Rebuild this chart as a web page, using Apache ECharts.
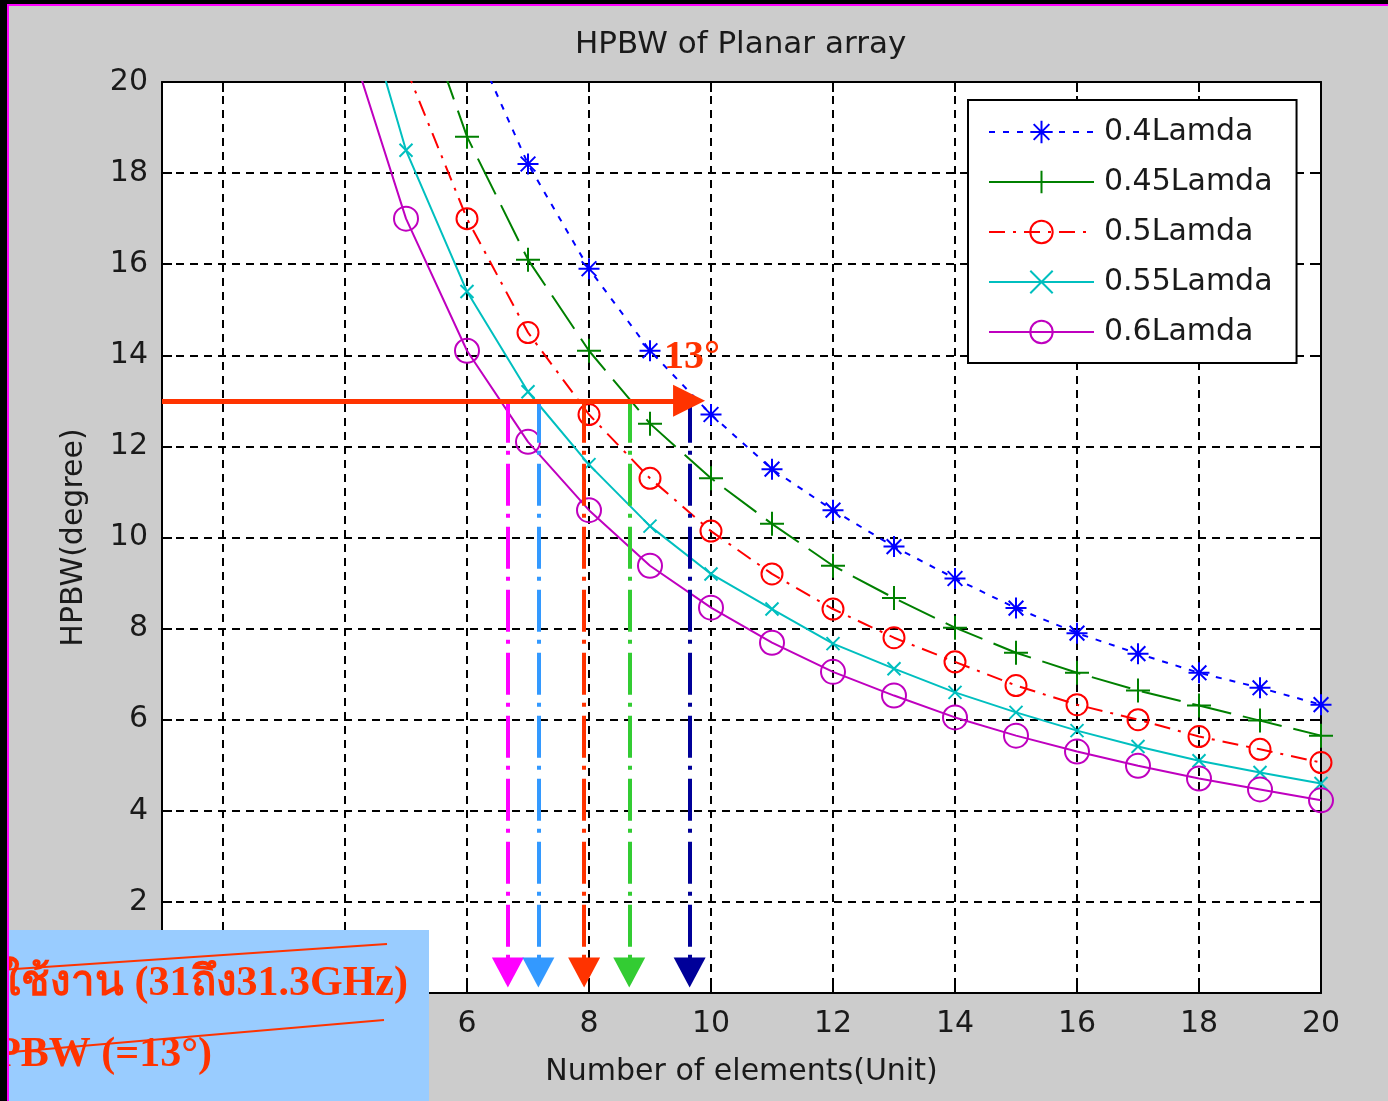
<!DOCTYPE html>
<html>
<head>
<meta charset="utf-8">
<title>HPBW of Planar array</title>
<script src="https://cdn.jsdelivr.net/npm/echarts@6/dist/echarts.min.js"></script>
<style>
body{margin:0;background:#cccccc}
#main{width:1388px;height:1101px}
</style>
</head>
<body>
<div id="main"></div>
<script>
// number of elements (x)
var elements = [1,2,3,4,5,6,7,8,9,10,11,12,13,14,15,16,17,18,19,20];
// HPBW (degree), values above 20 only to let the line run off the top
var hpbw040 = [null,null,null,null,null,21.2,18.2,15.9,14.1,12.7,11.5,10.6,9.8,9.1,8.45,7.9,7.45,7.03,6.7,6.33];
var hpbw045 = [null,null,null,null,22.6,18.8,16.1,14.1,12.5,11.3,10.3,9.38,8.67,8.02,7.47,7.03,6.64,6.31,5.98,5.65];
var hpbw050 = [null,null,null,null,20.3,17.0,14.5,12.7,11.3,10.14,9.2,8.43,7.8,7.27,6.75,6.33,6.0,5.63,5.35,5.06];
var hpbw055 = [null,null,null,23.1,18.5,15.4,13.2,11.6,10.25,9.2,8.43,7.67,7.12,6.6,6.16,5.76,5.41,5.1,4.84,4.6];
var hpbw060 = [null,null,null,21.2,17.0,14.1,12.1,10.6,9.38,8.46,7.69,7.05,6.53,6.05,5.65,5.3,4.99,4.71,4.47,4.23];

var xTicks = [2,4,6,8,10,12,14,16,18,20];
var yTicks = [0,2,4,6,8,10,12,14,16,18,20];

// annotation: target HPBW and where each curve crosses it
var targetHpbw = 13;
var crossX = [6.67, 7.17, 7.92, 8.66, 9.65];
var crossColors = ['#ff00ff', '#3399ff', '#ff3300', '#33cc33', '#000099'];

var FONT = 'DejaVu Sans';
var STAR = 'path://M10 0L10 20M0 10L20 10M3 3L17 17M3 17L17 3';
var PLUS = 'path://M10 0L10 20M0 10L20 10';
var CROSS = 'path://M0 0L20 20M0 20L20 0';

function pairs(vals){
    return elements.map(function(n, i){ return [n, vals[i]]; });
}

function curve(name, vals, color, dash, symbol, size){
    return {
        name: name,
        type: 'line',
        data: pairs(vals),
        symbol: symbol,
        symbolSize: size,
        showAllSymbol: true,
        clip: true,
        z: 3,
        lineStyle: {color: color, width: 2, type: dash},
        itemStyle: {color: 'rgba(0,0,0,0)', borderColor: color, borderWidth: 2},
        emphasis: {disabled: true}
    };
}

var arrowLines = crossX.map(function(x, i){
    return [
        {coord: [x, targetHpbw], symbol: 'none', lineStyle: {color: crossColors[i], width: 4, type: [42, 8, 4, 9]}, itemStyle: {color: crossColors[i]}},
        {coord: [x, 0.45], symbol: 'triangle', symbolSize: [32, 30]}
    ];
});
arrowLines.push([
    {coord: [1, targetHpbw], symbol: 'none', lineStyle: {color: '#ff3300', width: 5, type: 'solid'}, itemStyle: {color: '#ff3300'}},
    {coord: [9.64, targetHpbw], symbol: 'triangle', symbolSize: [32, 32]}
]);

var gridLine = {show: true, lineStyle: {color: '#000', width: 2, type: [8, 6]}};

var myChart = echarts.init(document.getElementById('main'));
var option = {
    backgroundColor: '#cccccc',
    animation: false,
    title: {
        text: 'HPBW of Planar array',
        left: 570, top: 24,
        textStyle: {fontFamily: FONT, fontSize: 31, fontWeight: 'normal', color: '#1a1a1a'}
    },
    grid: {left: 162, right: 67, top: 82, bottom: 108, show: true, backgroundColor: '#fff', borderWidth: 0},
    legend: {
        orient: 'vertical',
        left: 968, top: 100,
        padding: [17, 24, 16, 20],
        backgroundColor: '#fff',
        borderColor: '#000', borderWidth: 2,
        itemWidth: 105, itemHeight: 28, itemGap: 20,
        textStyle: {fontFamily: FONT, fontSize: 30, color: '#1a1a1a', lineHeight: 28, padding: [0, 0, 0, 5]},
        data: [
            {name: '0.4Lamda'},
            {name: '0.45Lamda', lineStyle: {type: 'solid'}},
            {name: '0.5Lamda'},
            {name: '0.55Lamda'},
            {name: '0.6Lamda'}
        ]
    },
    xAxis: [{
        type: 'value', min: 1, max: 20, position: 'bottom',
        name: 'Number of elements(Unit)', nameLocation: 'middle', nameGap: 64,
        nameTextStyle: {fontFamily: FONT, fontSize: 30, color: '#1a1a1a'},
        axisLine: {show: true, onZero: false, lineStyle: {color: '#000', width: 2}},
        axisTick: {show: true, inside: true, length: 10, customValues: xTicks, lineStyle: {color: '#000', width: 2}},
        axisLabel: {customValues: xTicks, margin: 16, fontFamily: FONT, fontSize: 30, color: '#1a1a1a'},
        splitLine: gridLine
    }, {
        type: 'value', min: 1, max: 20, position: 'top',
        axisLine: {show: true, onZero: false, lineStyle: {color: '#000', width: 2}},
        axisTick: {show: true, inside: true, length: 10, customValues: xTicks, lineStyle: {color: '#000', width: 2}},
        axisLabel: {show: false},
        splitLine: {show: false}
    }],
    yAxis: [{
        type: 'value', min: 0, max: 20, interval: 2, position: 'left',
        name: 'HPBW(degree)', nameLocation: 'middle', nameGap: 73, nameRotate: 90,
        nameTextStyle: {fontFamily: FONT, fontSize: 30, color: '#1a1a1a'},
        axisLine: {show: true, onZero: false, lineStyle: {color: '#000', width: 2}},
        axisTick: {show: true, inside: true, length: 10, lineStyle: {color: '#000', width: 2}},
        axisLabel: {margin: 14, fontFamily: FONT, fontSize: 30, color: '#1a1a1a', formatter: function(v){ return yTicks.indexOf(v) >= 0 ? String(v) : ''; }},
        splitLine: gridLine
    }, {
        type: 'value', min: 0, max: 20, interval: 2, position: 'right',
        axisLine: {show: true, onZero: false, lineStyle: {color: '#000', width: 2}},
        axisTick: {show: true, inside: true, length: 10, lineStyle: {color: '#000', width: 2}},
        axisLabel: {show: false},
        splitLine: {show: false}
    }],
    series: [
        curve('0.4Lamda', hpbw040, '#0000ff', [6, 8], STAR, 21),
        curve('0.45Lamda', hpbw045, '#008000', [40, 12], PLUS, 24),
        curve('0.5Lamda', hpbw050, '#ff0000', [16, 8, 3, 8], 'circle', 21),
        curve('0.55Lamda', hpbw055, '#00bfbf', 'solid', CROSS, 13),
        curve('0.6Lamda', hpbw060, '#bf00bf', 'solid', 'circle', 24),
        {
            name: 'annotation', type: 'line', data: [], z: 5, silent: true,
            markLine: {
                silent: true, animation: false,
                label: {show: false},
                emphasis: {disabled: true},
                data: arrowLines
            }
        }
    ],
    graphic: [
        {type: 'rect', z: 200, shape: {x: 0, y: 0, width: 7, height: 1101}, style: {fill: '#000'}},
        {type: 'rect', z: 200, shape: {x: 0, y: 0, width: 1388, height: 4}, style: {fill: '#000'}},
        {type: 'rect', z: 201, shape: {x: 7, y: 4, width: 2, height: 1097}, style: {fill: '#ff00ff'}},
        {type: 'rect', z: 201, shape: {x: 7, y: 4, width: 1381, height: 2}, style: {fill: '#ff00ff'}},
        {type: 'text', z: 150, x: 692, y: 358, style: {text: '13°', fill: '#ff3300', font: 'bold 40px "Liberation Serif", serif', align: 'center', verticalAlign: 'middle'}},
        {type: 'rect', z: 190, shape: {x: 0, y: 930, width: 429, height: 171}, style: {fill: '#99ccff'}},
        {type: 'text', z: 191, x: 408, y: 984, style: {text: 'ความถี่ใช้งาน (31ถึง31.3GHz)', fill: '#ff3300', font: 'bold 42px "Liberation Serif", serif', align: 'right', verticalAlign: 'middle'}},
        {type: 'text', z: 191, x: 212, y: 1055, style: {text: 'HPBW (=13°)', fill: '#ff3300', font: 'bold 42px "Liberation Serif", serif', align: 'right', verticalAlign: 'middle'}},
        {type: 'line', z: 192, shape: {x1: 0, y1: 970, x2: 387, y2: 944}, style: {stroke: '#ff3300', lineWidth: 2}},
        {type: 'line', z: 192, shape: {x1: 0, y1: 1053, x2: 384, y2: 1020}, style: {stroke: '#ff3300', lineWidth: 2}}
    ]
};
myChart.setOption(option);
</script>
</body>
</html>
